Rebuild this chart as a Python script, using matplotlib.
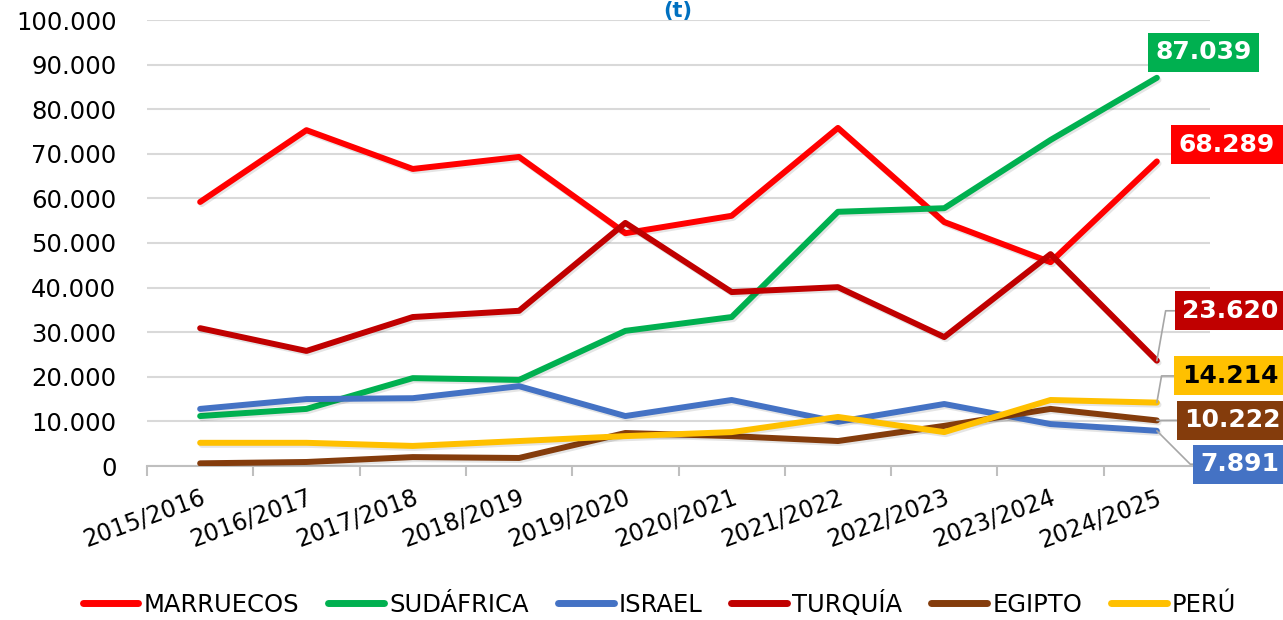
import matplotlib
matplotlib.use('Agg')
import matplotlib.pyplot as plt
import matplotlib.ticker as mticker
import matplotlib.patheffects as pe

campaigns = ['2015/2016', '2016/2017', '2017/2018', '2018/2019', '2019/2020',
             '2020/2021', '2021/2022', '2022/2023', '2023/2024', '2024/2025']

marruecos = [59200, 75300, 66600, 69300, 52200, 56100, 75800, 54700, 45700, 68289]
sudafrica = [11200, 12800, 19700, 19300, 30300, 33400, 57000, 57800, 73100, 87039]
israel = [12800, 15000, 15200, 17900, 11200, 14800, 9900, 13900, 9400, 7891]
turquia = [30900, 25800, 33400, 34800, 54500, 39000, 40100, 28900, 47500, 23620]
egipto = [600, 900, 2000, 1800, 7400, 6700, 5600, 9000, 12800, 10222]
peru = [5200, 5200, 4500, 5600, 6700, 7600, 11000, 7600, 14800, 14214]

series = [
    ('MARRUECOS', marruecos, '#FF0000'),
    ('SUDÁFRICA', sudafrica, '#00B050'),
    ('ISRAEL', israel, '#4472C4'),
    ('TURQUÍA', turquia, '#C00000'),
    ('EGIPTO', egipto, '#843C0C'),
    ('PERÚ', peru, '#FFC000'),
]

# where the last-value boxes sit (data coords) and the leader line style (None = no line)
label_pos = {
    'MARRUECOS': (9.66, 72000, None),
    'SUDÁFRICA': (9.44, 92800, None),
    'ISRAEL': (9.78, 400, 'angle,angleA=0,angleB=-45,rad=0'),
    'TURQUÍA': (9.69, 34800, 'angle,angleA=0,angleB=80,rad=0'),
    'EGIPTO': (9.71, 10300, 'arc3,rad=0'),
    'PERÚ': (9.69, 20200, 'angle,angleA=0,angleB=80,rad=0'),
}

fig = plt.figure(figsize=(12.83, 6.2), dpi=100)
ax = fig.add_axes([147 / 1283, (620 - 466) / 620, (1210 - 147) / 1283, 446 / 620])

x = list(range(len(campaigns)))
shadow = [pe.SimpleLineShadow(offset=(1.2, -1.5), alpha=0.1), pe.Normal()]
for name, vals, col in series:
    ax.plot(x, vals, color=col, lw=4.3, solid_capstyle='round', label=name,
            zorder=3, path_effects=shadow)

for name, vals, col in series:
    lx, ly, conn = label_pos[name]
    txt_col = 'black' if name == 'PERÚ' else 'white'
    txt = '{:,}'.format(vals[-1]).replace(',', '.')
    arrow = None
    if conn:
        arrow = dict(arrowstyle='-', color='#A6A6A6', lw=1.2, shrinkA=0, shrinkB=0,
                     connectionstyle=conn)
    ax.annotate(txt, xy=(x[-1], vals[-1]), xytext=(lx, ly), textcoords='data',
                ha='center', va='center', fontsize=18, fontweight='bold',
                family='DejaVu Sans', color=txt_col, annotation_clip=False,
                bbox=dict(boxstyle='square,pad=0.3', fc=col, ec='none'),
                arrowprops=arrow, zorder=5)

ax.set_xlim(-0.5, 9.5)
ax.set_ylim(0, 100000)
ax.yaxis.set_major_locator(mticker.MultipleLocator(10000))
ax.yaxis.set_major_formatter(mticker.FuncFormatter(lambda v, p: '{:,.0f}'.format(v).replace(',', '.')))
ax.grid(axis='y', color='#D9D9D9', lw=1.5)
ax.set_axisbelow(True)

for s in ['top', 'right', 'left']:
    ax.spines[s].set_visible(False)
ax.spines['bottom'].set_color('#BFBFBF')
ax.spines['bottom'].set_linewidth(1.5)

ax.set_xticks(x)
ax.set_xticklabels(campaigns, rotation=20, ha='right', rotation_mode='anchor', fontsize=17)
ax.tick_params(axis='x', length=0, pad=14)
ax.set_xticks([i - 0.5 for i in range(len(campaigns) + 1)], minor=True)
ax.tick_params(axis='x', which='minor', length=7, color='#BFBFBF', width=1.5)
ax.tick_params(axis='y', length=0, labelsize=17.5, pad=22)

fig.text(0.528, 0.999, '(t)', ha='center', va='top', color='#0070C0',
         fontsize=15, fontweight='bold')

leg = fig.legend(loc='center', bbox_to_anchor=(0.514, (620 - 604) / 620), ncol=6,
                 frameon=False, handlelength=2.3, handletextpad=0.2, columnspacing=1.2,
                 prop={'size': 17.5})
for h in leg.get_lines():
    h.set_linewidth(5)
    h.set_path_effects([])

fig.savefig('out.png', dpi=100)
